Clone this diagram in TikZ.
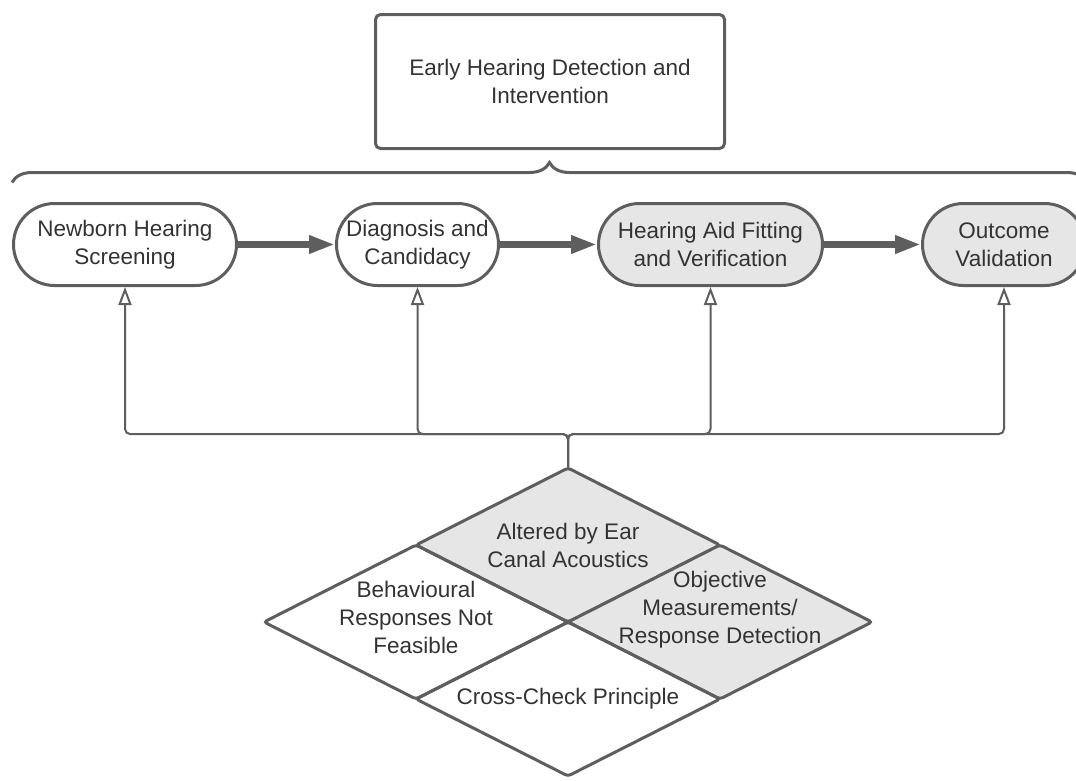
\documentclass[tikz,border=0pt]{standalone}
\usepackage{fontspec}
\setmainfont{Liberation Sans}
\usetikzlibrary{positioning, shapes.geometric, arrows.meta, decorations.pathreplacing}
\definecolor{linegray}{HTML}{5E5E5E}
\definecolor{textgray}{HTML}{333333}
\definecolor{fillgray}{HTML}{E6E6E6}

\begin{document}
\begin{tikzpicture}[x=1pt, y=-1pt, node distance = 97pt and 97pt,
font=\fontsize{22.5}{28}\selectfont, text=textgray,
headbox/.style= {rectangle, rounded corners=5pt, align=center, line width=3pt, draw=linegray, minimum width=349pt, minimum height=134pt},
stage/.style= {rectangle, rounded corners=41pt, align=center, line width=3pt, draw=linegray, minimum height=82pt, inner sep=0pt},
cue/.style= {diamond, rounded corners=3pt, line width=3pt, draw=linegray, minimum width=304pt, minimum height=154pt, inner sep=0pt, outer sep=0pt},
flow/.style= {line width=6.5pt, draw=linegray, -{Triangle[length=26pt, width=17pt]}},
feed/.style= {line width=2pt, draw=linegray, rounded corners=5pt, -{Triangle[open, length=18pt, width=13pt]}} ]
\useasboundingbox (0,0) rectangle (1076,780);
\node (T) [headbox] at (550,81.5) {Early Hearing Detection and\\Intervention};
\node (N) [stage, minimum width=223pt] at (125,244.5) {Newborn Hearing\\Screening};
\node (D) [stage, minimum width=162pt, right = of N] {Diagnosis and\\Candidacy};
\node (H) [stage, minimum width=224pt, fill=fillgray, right = of D] {Hearing Aid Fitting\\and Verification};
\node (O) [stage, minimum width=163pt, fill=fillgray, right = of H] {Outcome\\Validation};
\draw[line width=3pt, draw=linegray, decorate, decoration={brace, amplitude=20pt}] ([yshift=19.5pt]N.north west) -- ([yshift=19.5pt]O.north east);
\path (N) edge[flow] (D);
\path (D) edge[flow] (H);
\path (H) edge[flow] (O);
% cross-check diamonds
\node (A) [cue, fill=fillgray, label={[align=center]center:{Altered by Ear\\Canal Acoustics}}] at (568,545) {};
\node (B) [cue, label={[align=center, yshift=5pt]center:{Behavioural\\Responses Not\\Feasible}}] at (A.west |- A.south) {};
\node (M) [cue, fill=fillgray, label={[align=center, yshift=12pt]center:{Objective\\Measurements/\\Response Detection}}] at (A.east |- A.south) {};
\node (C) [cue, below = 0pt of A, label={[align=center]center:{Cross-Check Principle}}] {};
\coordinate (hub) at ([yshift=34pt]A.north);
\draw[feed] (A.north) -- (hub) -| (N.south);
\draw[feed] (A.north) -- (hub) -| (D.south);
\draw[feed] (A.north) -- (hub) -| (H.south);
\draw[feed] (A.north) -- (hub) -| (O.south);
\end{tikzpicture}
\end{document}
